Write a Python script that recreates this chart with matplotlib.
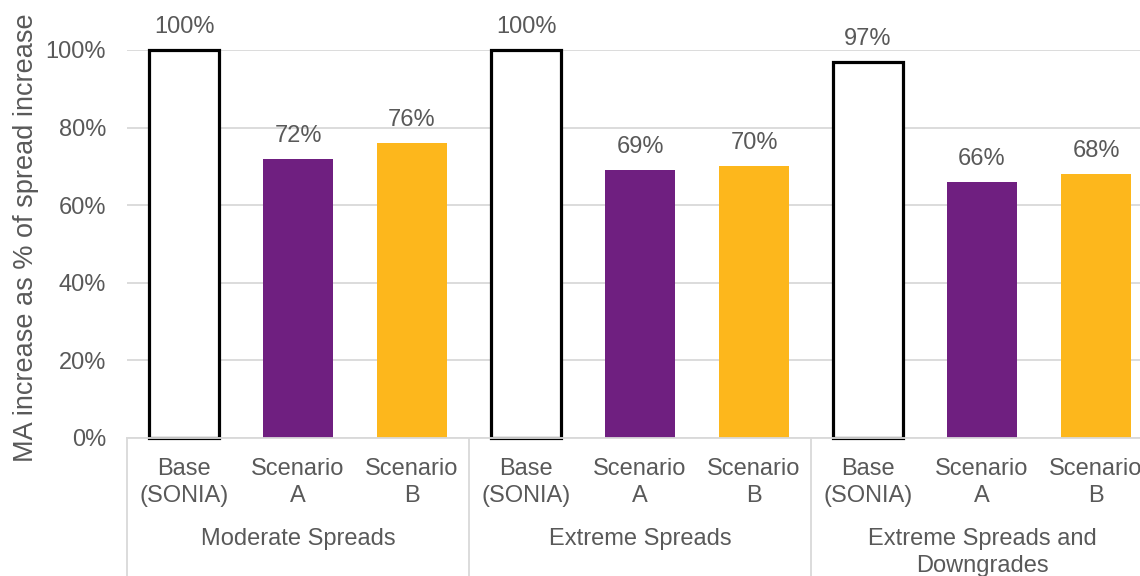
import numpy as np
import matplotlib.pyplot as plt
from matplotlib.transforms import blended_transform_factory

# Margin adequacy increase relative to the spread increase, by stress and scenario
groups = ["Moderate Spreads", "Extreme Spreads", "Extreme Spreads and\nDowngrades"]
scenarios = ["Base\n(SONIA)", "Scenario\nA", "Scenario\nB"]
base = [1.00, 1.00, 0.97]
scen_a = [0.72, 0.69, 0.66]
scen_b = [0.76, 0.70, 0.68]

plt.rcParams['font.family'] = ['Liberation Sans', 'DejaVu Sans']
grey = '#595959'
grid = '#D9D9D9'
purple = '#6F1F80'
yellow = '#FDB71C'
fs = 17

fig = plt.figure(figsize=(11.4, 5.76), dpi=100)
ax = fig.add_axes([127 / 1140, 1 - 438 / 576, 1026 / 1140, 388 / 576])

width = 0.62
x = np.arange(len(groups)) * 3
bars_base = ax.bar(x, base, width, facecolor='white', edgecolor='black', linewidth=2.3, clip_on=False, zorder=3)
bars_a = ax.bar(x + 1, scen_a, width, color=purple, clip_on=False, zorder=3)
bars_b = ax.bar(x + 2, scen_b, width, color=yellow, clip_on=False, zorder=3)

for bars, vals in [(bars_base, base), (bars_a, scen_a), (bars_b, scen_b)]:
    for b, v in zip(bars, vals):
        ax.annotate(f"{v:.0%}", (b.get_x() + b.get_width() / 2, v), xytext=(0, 16.5),
                    textcoords='offset points', ha='center', va='center',
                    fontsize=fs, color=grey, annotation_clip=False)

ax.set_xlim(-0.5, 8.5)
ax.set_ylim(0, 1)
ax.set_yticks(np.arange(0, 1.01, 0.2))
ax.set_yticklabels([f"{t:.0%}" for t in np.arange(0, 1.01, 0.2)])
ax.tick_params(axis='y', length=0, pad=15, labelsize=fs, labelcolor=grey)
ax.set_xticks([])
ax.grid(axis='y', color=grid, linewidth=1.3, zorder=0)
for s in ['top', 'right', 'left']:
    ax.spines[s].set_visible(False)
ax.spines['bottom'].set_color(grid)
ax.spines['bottom'].set_linewidth(1.3)
ax.spines['bottom'].set_zorder(4)

# two-level category axis
trans = blended_transform_factory(ax.transData, ax.transAxes)
for i, g in enumerate(groups):
    for j, s in enumerate(scenarios):
        ax.text(x[i] + j, -0.115, s, transform=trans, ha='center', va='center',
                fontsize=fs, color=grey, linespacing=1.28)
    ax.text(x[i] + 1, -0.232, g, transform=trans, ha='center', va='top',
            fontsize=fs, color=grey, linespacing=1.3)
for sep in [-0.5, 2.5, 5.5, 8.5]:
    ax.plot([sep, sep], [0, -0.5], transform=trans, color=grid, linewidth=1.3, clip_on=False)

fig.text(26 / 1140, 1 - 238 / 576, "MA increase as % of spread increase", rotation=90,
         ha='center', va='center', fontsize=19.5, color=grey)

fig.savefig('out.png', dpi=100)
